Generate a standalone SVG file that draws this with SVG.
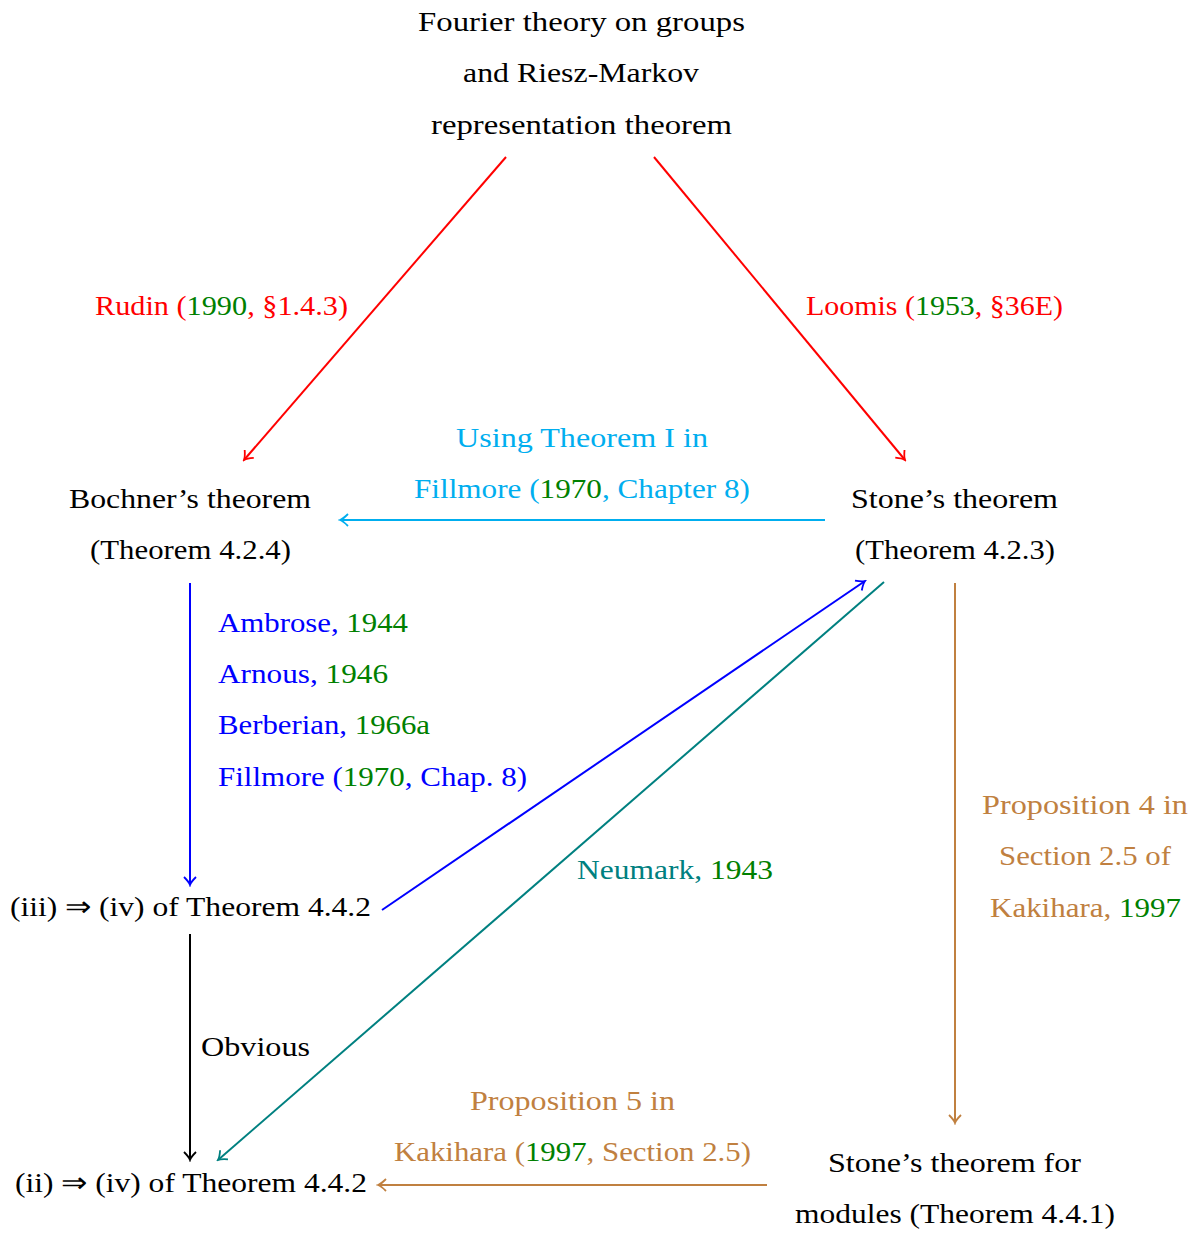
<svg xmlns="http://www.w3.org/2000/svg" width="1200" height="1234" viewBox="0 0 1200 1234">
<style>
text{font-family:"Liberation Serif","Times New Roman",serif;font-size:28px;fill:#000}
.r{fill:#ff0000}.g{fill:#008000}.b{fill:#0000ff}.c{fill:#00aeef}.t{fill:#008080}.o{fill:#c08040}
line{stroke-width:2;fill:none}
</style>
<defs>
<marker id="mr" viewBox="-10 -8 12 16" refX="0" refY="0" markerWidth="12" markerHeight="16" markerUnits="userSpaceOnUse" orient="auto"><path d="M-8,-6 Q-3,-1 0,0 Q-3,1 -8,6" fill="none" stroke="#ff0000" stroke-width="1.8"/></marker>
<marker id="mc" viewBox="-10 -8 12 16" refX="0" refY="0" markerWidth="12" markerHeight="16" markerUnits="userSpaceOnUse" orient="auto"><path d="M-8,-6 Q-3,-1 0,0 Q-3,1 -8,6" fill="none" stroke="#00aeef" stroke-width="1.8"/></marker>
<marker id="mb" viewBox="-10 -8 12 16" refX="0" refY="0" markerWidth="12" markerHeight="16" markerUnits="userSpaceOnUse" orient="auto"><path d="M-8,-6 Q-3,-1 0,0 Q-3,1 -8,6" fill="none" stroke="#0000ff" stroke-width="1.8"/></marker>
<marker id="mk" viewBox="-10 -8 12 16" refX="0" refY="0" markerWidth="12" markerHeight="16" markerUnits="userSpaceOnUse" orient="auto"><path d="M-8,-6 Q-3,-1 0,0 Q-3,1 -8,6" fill="none" stroke="#000" stroke-width="1.8"/></marker>
<marker id="mt" viewBox="-10 -8 12 16" refX="0" refY="0" markerWidth="12" markerHeight="16" markerUnits="userSpaceOnUse" orient="auto"><path d="M-8,-6 Q-3,-1 0,0 Q-3,1 -8,6" fill="none" stroke="#008080" stroke-width="1.8"/></marker>
<marker id="mo" viewBox="-10 -8 12 16" refX="0" refY="0" markerWidth="12" markerHeight="16" markerUnits="userSpaceOnUse" orient="auto"><path d="M-8,-6 Q-3,-1 0,0 Q-3,1 -8,6" fill="none" stroke="#c08040" stroke-width="1.8"/></marker>
</defs>
<rect width="1200" height="1234" fill="#fff"/>

<g id="connectors">
<line x1="506" y1="157" x2="244" y2="460" stroke="#ff0000" marker-end="url(#mr)"/>
<line x1="654" y1="157" x2="905" y2="460" stroke="#ff0000" marker-end="url(#mr)"/>
<line x1="825" y1="520" x2="340" y2="520" stroke="#00aeef" marker-end="url(#mc)"/>
<line x1="190" y1="583" x2="190" y2="885" stroke="#0000ff" marker-end="url(#mb)"/>
<line x1="190" y1="934" x2="190" y2="1160" stroke="#000" marker-end="url(#mk)"/>
<line x1="382" y1="910" x2="865" y2="581" stroke="#0000ff" marker-end="url(#mb)"/>
<line x1="884" y1="582" x2="218" y2="1160" stroke="#008080" marker-end="url(#mt)"/>
<line x1="955" y1="583" x2="955" y2="1123" stroke="#c08040" marker-end="url(#mo)"/>
<line x1="767" y1="1185" x2="378" y2="1185" stroke="#c08040" marker-end="url(#mo)"/>

<text x="95" y="315" textLength="253" lengthAdjust="spacingAndGlyphs" class="r">Rudin (<tspan class="g">1990</tspan>, §1.4.3)</text>
<text x="806" y="315" textLength="257" lengthAdjust="spacingAndGlyphs" class="r">Loomis (<tspan class="g">1953</tspan>, §36E)</text>
<text x="456" y="447" textLength="252" lengthAdjust="spacingAndGlyphs" class="c">Using Theorem I in</text>
<text x="414" y="498" textLength="336" lengthAdjust="spacingAndGlyphs" class="c">Fillmore (<tspan class="g">1970</tspan>, Chapter 8)</text>
<text x="218" y="632" textLength="190" lengthAdjust="spacingAndGlyphs" class="b">Ambrose, <tspan class="g">1944</tspan></text>
<text x="218" y="683" textLength="170" lengthAdjust="spacingAndGlyphs" class="b">Arnous, <tspan class="g">1946</tspan></text>
<text x="218" y="734" textLength="212" lengthAdjust="spacingAndGlyphs" class="b">Berberian, <tspan class="g">1966a</tspan></text>
<text x="218" y="786" textLength="309" lengthAdjust="spacingAndGlyphs" class="b">Fillmore (<tspan class="g">1970</tspan>, Chap. 8)</text>
<text x="577" y="879" textLength="196" lengthAdjust="spacingAndGlyphs" class="t">Neumark, <tspan class="g">1943</tspan></text>
<text x="982" y="814" textLength="206" lengthAdjust="spacingAndGlyphs" class="o">Proposition 4 in</text>
<text x="999" y="865" textLength="172" lengthAdjust="spacingAndGlyphs" class="o">Section 2.5 of</text>
<text x="990" y="917" textLength="191" lengthAdjust="spacingAndGlyphs" class="o">Kakihara, <tspan class="g">1997</tspan></text>
<text x="201" y="1056" textLength="109" lengthAdjust="spacingAndGlyphs">Obvious</text>
<text x="470" y="1110" textLength="205" lengthAdjust="spacingAndGlyphs" class="o">Proposition 5 in</text>
<text x="394" y="1161" textLength="357" lengthAdjust="spacingAndGlyphs" class="o">Kakihara (<tspan class="g">1997</tspan>, Section 2.5)</text>
</g>

<g id="fourier">
<text x="418" y="31" textLength="327" lengthAdjust="spacingAndGlyphs">Fourier theory on groups</text>
<text x="463" y="82" textLength="236" lengthAdjust="spacingAndGlyphs">and Riesz-Markov</text>
<text x="431" y="134" textLength="301" lengthAdjust="spacingAndGlyphs">representation theorem</text>
</g>
<g id="bochner">
<text x="69" y="508" textLength="242" lengthAdjust="spacingAndGlyphs">Bochner’s theorem</text>
<text x="90" y="559" textLength="201" lengthAdjust="spacingAndGlyphs">(Theorem 4.2.4)</text>
</g>
<g id="stone">
<text x="851" y="508" textLength="207" lengthAdjust="spacingAndGlyphs">Stone’s theorem</text>
<text x="855" y="559" textLength="200" lengthAdjust="spacingAndGlyphs">(Theorem 4.2.3)</text>
</g>
<g id="iii-iv">
<text x="10" y="916" textLength="361" lengthAdjust="spacingAndGlyphs">(iii) ⇒ (iv) of Theorem 4.4.2</text>
</g>
<g id="ii-iv">
<text x="15" y="1192" textLength="352" lengthAdjust="spacingAndGlyphs">(ii) ⇒ (iv) of Theorem 4.4.2</text>
</g>
<g id="stone-modules">
<text x="828" y="1172" textLength="253" lengthAdjust="spacingAndGlyphs">Stone’s theorem for</text>
<text x="795" y="1223" textLength="320" lengthAdjust="spacingAndGlyphs">modules (Theorem 4.4.1)</text>
</g>
</svg>
